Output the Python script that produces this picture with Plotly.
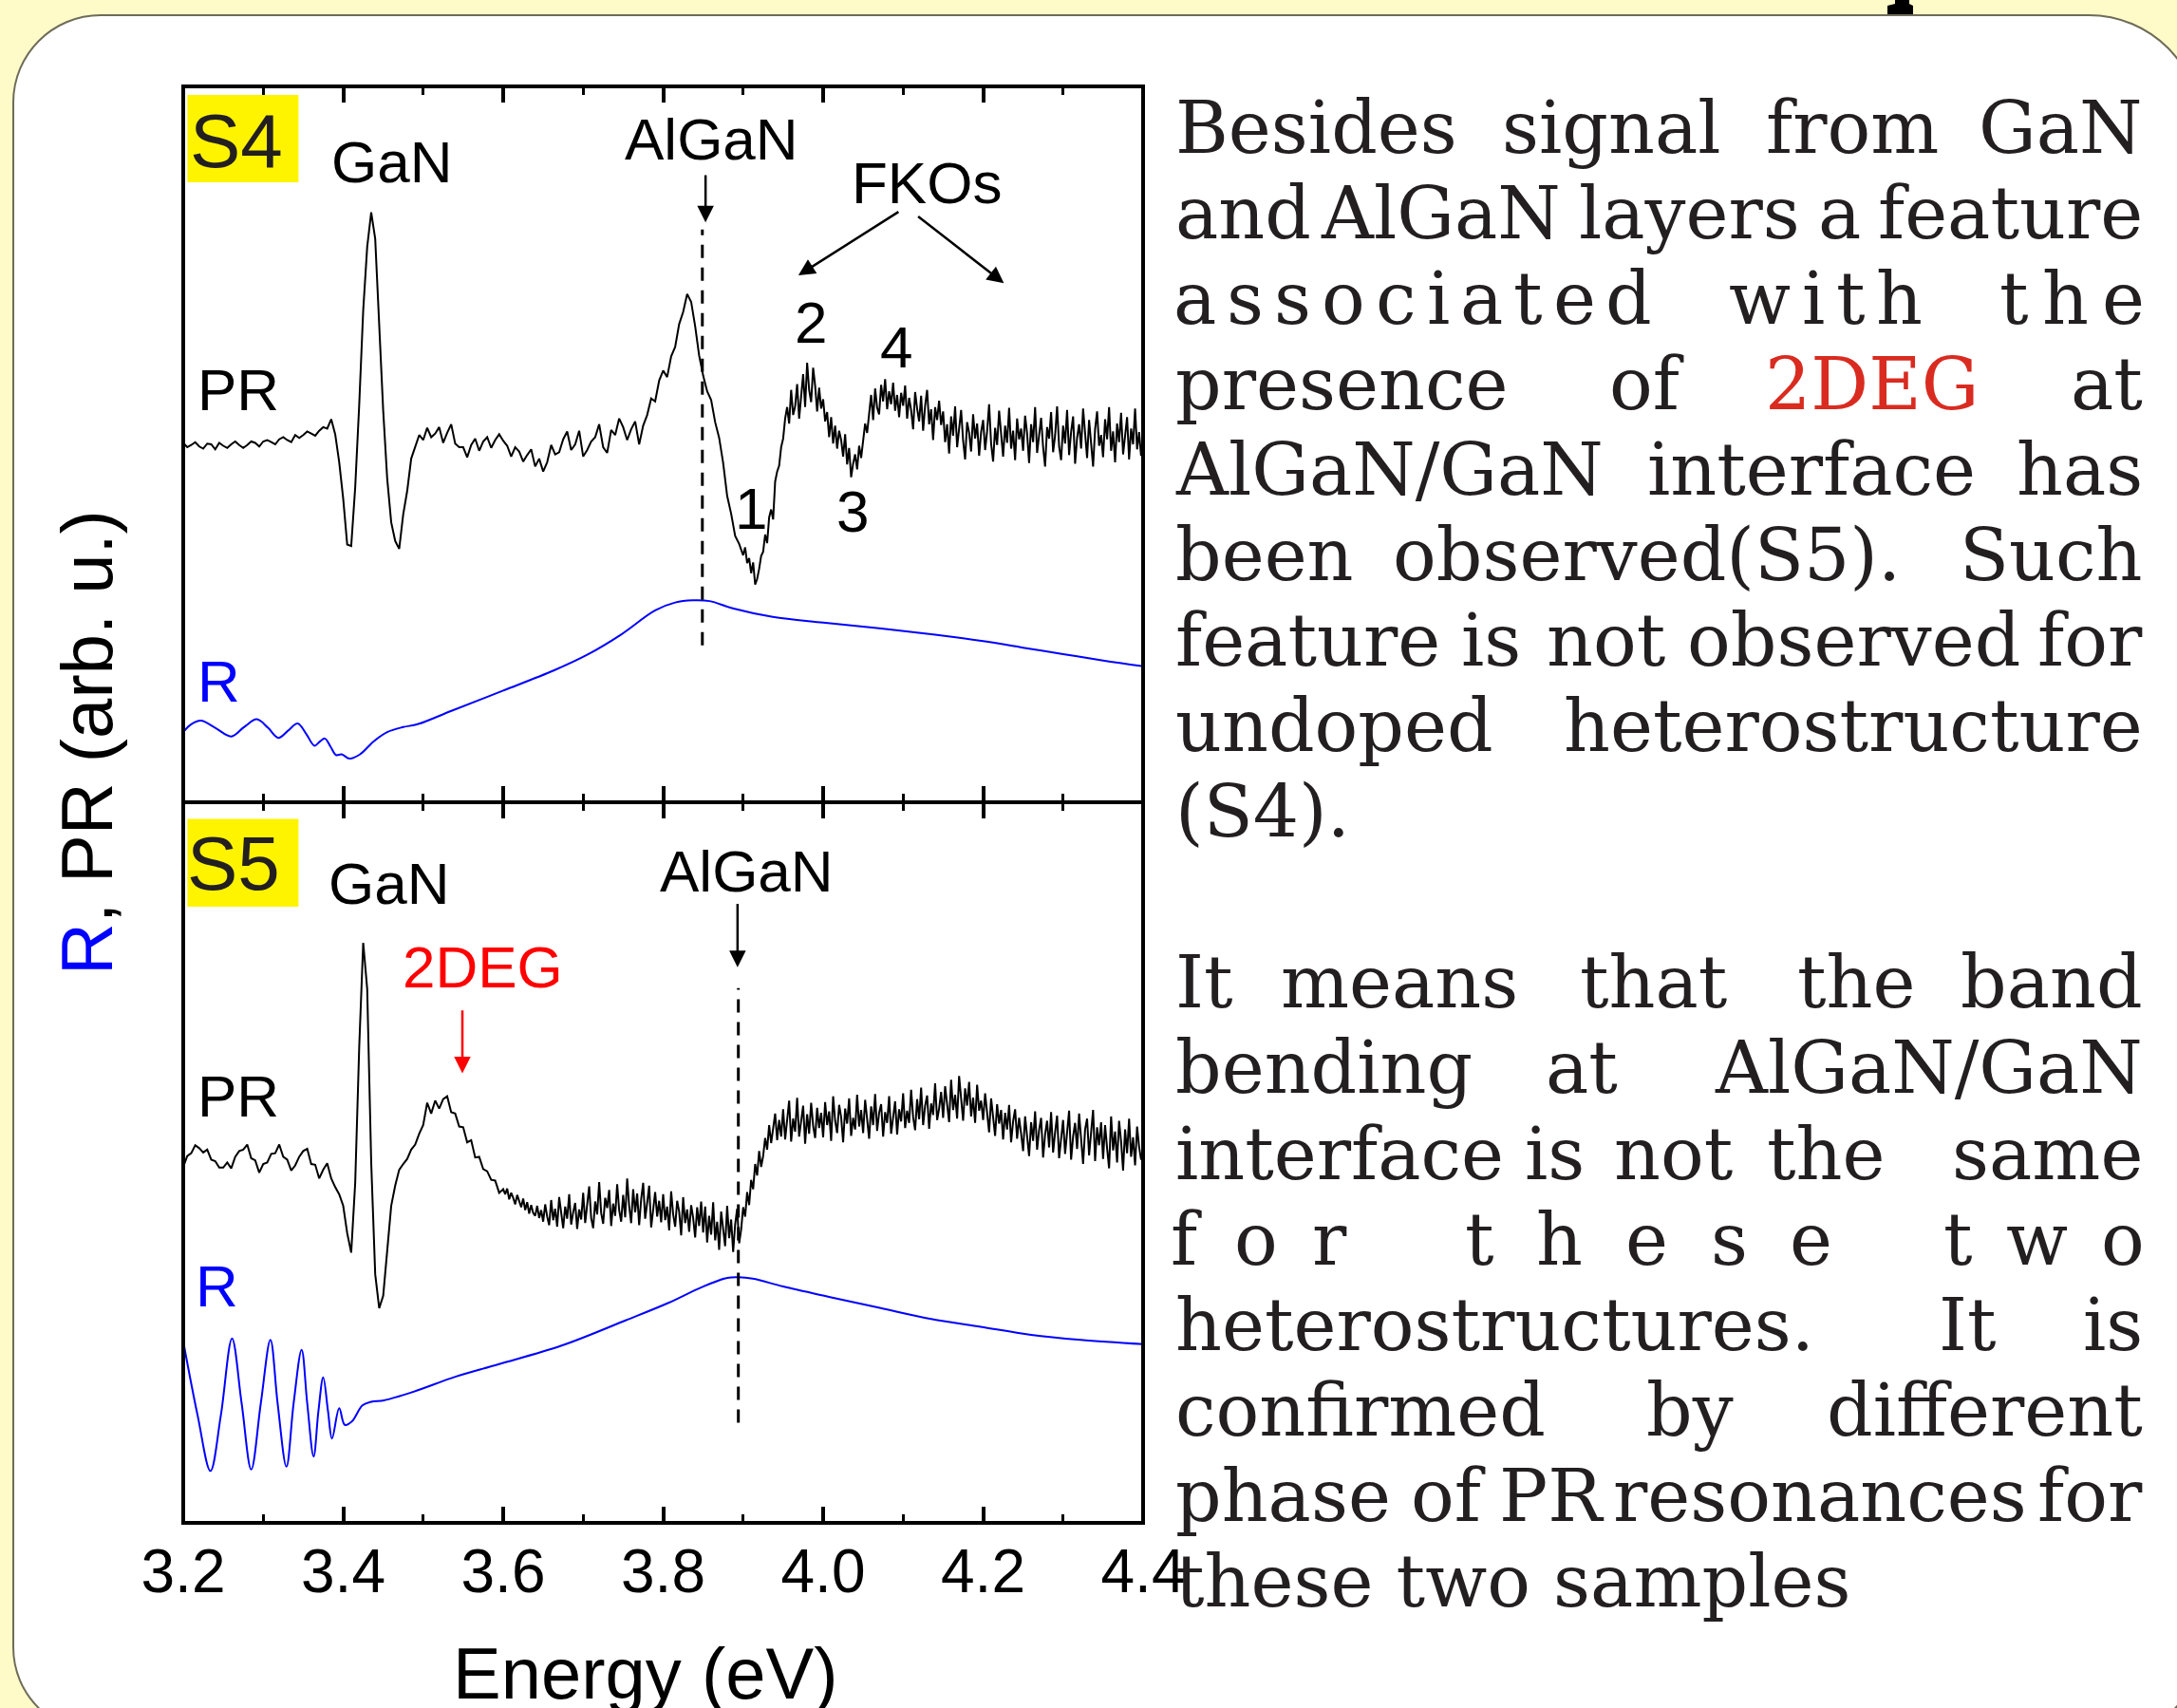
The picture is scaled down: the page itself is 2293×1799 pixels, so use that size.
import numpy as np
import plotly.graph_objects as go

W, H = 2293, 1799
S = W / 1568.0          # preview -> full scale for text layout positions

# ---------------- data (arb. u.) ----------------
# S4 PR: 3.200-3.895 eV every 5 meV, then 3.900-4.400 eV every 2.5 meV
pr_s4_coarse = [
    50.2, 49.6, 49.9, 50.3, 49.7, 49.4, 50.1, 50.0, 49.3, 50.2,
    49.8, 49.5, 50.0, 50.4, 49.9, 49.5, 49.9, 50.4, 50.2, 49.7,
    50.4, 50.6, 50.3, 50.0, 50.7, 51.0, 50.6, 50.3, 51.3, 50.9,
    51.3, 51.8, 51.5, 51.2, 51.9, 52.4, 52.2, 53.5, 51.4, 47.5,
    42.4, 36.0, 35.8, 44.0, 55.5, 68.7, 77.6, 82.4, 78.7, 67.0,
    54.7, 45.2, 39.1, 36.5, 35.4, 40.2, 43.5, 48.0, 49.7, 51.3,
    50.6, 52.3, 51.0, 51.5, 52.4, 50.2, 51.6, 52.8, 50.1, 49.6,
    49.6, 48.2, 49.9, 50.8, 49.1, 50.4, 51.0, 49.5, 50.6, 51.4,
    50.5, 49.8, 48.3, 49.6, 49.0, 47.6, 48.5, 49.3, 46.9, 48.0,
    46.2, 47.5, 49.9, 48.6, 48.9, 50.7, 51.8, 49.2, 50.0, 51.9,
    48.3, 49.2, 50.4, 51.0, 52.8, 49.6, 48.8, 52.0, 51.3, 53.6,
    52.4, 50.6, 52.1, 53.2, 50.0, 52.6, 54.1, 56.4, 56.0, 58.9,
    60.3, 59.4, 62.3, 63.6, 66.8, 68.5, 71.0, 69.9, 66.5, 62.4,
    59.6, 57.4, 56.2, 53.1, 50.9, 47.4, 42.8, 40.3, 37.2, 36.1,
]
pr_s4_fine = [
    34.5, 35.6, 33.4, 34.1, 32.0, 33.5, 30.4, 31.2, 32.6, 34.4, 35.0, 37.4, 36.2, 39.8, 40.9, 39.5, 44.8, 46.2, 47.0, 49.6,
    50.8, 53.6, 55.2, 52.9, 57.6, 54.1, 55.3, 58.4, 53.6, 56.9, 59.8, 55.2, 61.4, 57.6, 55.9, 60.7, 58.2, 54.6, 57.9, 55.0,
    56.3, 53.2, 54.5, 51.0, 53.8, 50.1, 52.6, 49.4, 51.9, 50.6, 48.3, 51.4, 47.2, 49.5, 45.4, 47.3, 48.6, 46.5, 49.8, 48.1,
    50.2, 52.9, 51.6, 54.8, 56.9, 53.4, 57.8, 55.1, 54.2, 58.3, 56.0, 59.1, 54.9, 57.4, 55.6, 58.6, 54.7, 56.9, 53.8, 57.2,
    55.4, 58.2, 53.6, 56.5, 54.8, 52.1, 57.3, 55.0, 53.2, 56.8, 51.9, 55.4, 57.6, 52.8, 54.9, 50.6, 55.2, 53.4, 56.1, 52.7,
    54.6, 50.3, 52.8, 48.7, 53.9, 51.2, 55.3, 49.6, 52.0, 54.8, 50.5, 47.9, 53.1, 51.6, 49.0, 54.2, 50.8, 52.9, 48.4, 51.7,
    53.4, 49.2, 51.8, 55.6, 50.1, 47.6, 52.3, 49.9, 54.7, 51.0, 48.3, 52.6, 50.2, 55.1, 49.4, 51.9, 47.8, 53.6, 50.7, 52.2,
    49.1, 54.0, 51.5, 47.4, 52.8, 50.3, 55.2, 48.8, 51.4, 53.7, 49.6, 46.9, 52.4, 50.8, 54.5, 48.9, 51.2, 55.3, 49.7, 47.8,
    52.6, 50.1, 54.8, 48.5, 51.7, 53.9, 47.3, 50.9, 52.8, 49.4, 55.0, 51.2, 48.1, 53.4, 50.5, 46.9, 52.1, 54.6, 49.8, 51.3,
    48.2, 53.5, 50.7, 55.2, 49.1, 51.8, 47.5, 52.9, 50.3, 54.4, 48.6, 51.5, 53.8, 47.9, 52.2, 50.0, 55.0, 49.3, 51.7, 48.4,
    50.5,
]
# S5 PR: 3.200-3.595 eV every 5 meV, then 3.600-4.400 eV every 2.5 meV
pr_s5_coarse = [
    49.4, 50.9, 51.3, 52.4, 52.0, 51.4, 51.8, 50.4, 50.2, 49.3,
    49.3, 50.0, 49.2, 50.8, 51.6, 51.8, 52.5, 50.6, 50.3, 48.6,
    49.8, 50.0, 51.2, 51.3, 52.5, 50.8, 50.4, 48.9, 49.6, 50.8,
    51.6, 51.9, 49.8, 49.7, 47.8, 49.0, 49.9, 47.8, 46.6, 45.6,
    44.0, 40.2, 37.5, 47.2, 66.0, 80.5, 74.1, 50.0, 34.5, 29.8,
    31.5, 38.0, 44.0, 46.8, 49.0, 49.8, 50.5, 51.8, 52.5, 54.0,
    55.2, 58.3, 56.8, 58.6, 57.5, 58.8, 59.2, 57.0, 56.8, 55.0,
    54.9, 52.8, 53.1, 50.7, 50.8, 49.1, 48.8, 47.6, 47.5, 45.8,
]
pr_s5_fine = [
    46.3, 45.6, 46.4, 44.9, 45.8, 45.1, 44.2, 45.5, 44.6, 43.8, 45.0, 43.4, 44.5, 42.9, 44.1, 43.0, 42.6, 44.0, 42.3, 43.4,
    41.8, 44.2, 42.5, 41.3, 44.8, 42.0, 43.6, 41.1, 45.2, 42.7, 40.9, 43.9, 42.2, 45.6, 41.4, 43.1, 44.4, 40.8, 43.5, 42.1,
    45.8, 41.6, 43.9, 46.7, 42.3, 40.9, 44.6, 42.8, 47.3, 43.0, 41.5, 45.1, 43.7, 46.2, 41.2, 44.3, 42.6, 47.0, 43.4, 41.8,
    45.5, 42.4, 47.8, 44.0, 41.6, 46.3, 43.1, 45.7, 41.3, 44.9, 47.2, 42.2, 44.4, 46.8, 41.0, 43.8, 45.9, 42.5, 44.7, 41.7,
    45.6, 42.0, 43.9, 40.6, 46.0, 42.8, 41.1, 44.7, 43.2, 39.9, 45.2, 41.6, 43.5, 40.4, 44.1, 42.3, 39.6, 43.8, 41.2, 44.6,
    40.3, 43.9, 38.9, 42.6, 40.0, 44.5, 39.2, 41.8, 37.9, 43.2, 40.6, 38.4, 44.0, 39.5, 42.1, 37.6, 41.4, 43.6, 38.8, 40.7,
    43.8, 42.5, 45.9, 44.1, 47.6, 46.3, 49.8, 48.2, 51.6, 49.4, 50.9, 53.4, 51.8, 55.2, 52.7, 54.6, 56.8, 53.1, 55.9, 53.6,
    57.4, 53.2, 55.8, 58.6, 52.9, 56.1, 54.3, 59.0, 53.6, 55.5, 57.9, 52.6, 56.7, 54.0, 58.3, 55.1, 53.4, 57.6, 54.8, 56.9,
    53.5, 58.4, 55.2, 57.1, 53.0, 59.2, 55.8, 54.1, 58.0, 56.3, 52.8, 57.5, 55.4, 58.9, 53.7, 56.2, 54.6, 59.4, 55.0, 57.3,
    54.1, 58.7, 56.0, 53.3, 57.8, 55.2, 59.5, 54.4, 56.9, 58.1, 53.6, 57.0, 55.5, 59.2, 54.0, 56.6, 58.5, 53.9, 57.4, 55.7,
    59.6, 54.8, 57.2, 55.5, 60.1, 56.3, 54.5, 58.8, 56.0, 60.4, 55.2, 57.9, 59.3, 54.7, 58.2, 56.6, 61.0, 55.9, 57.5, 59.8,
    56.2, 60.6, 58.0, 55.6, 61.5, 57.3, 59.4, 56.1, 62.0, 58.5, 55.8, 60.3, 57.9, 61.2, 56.4, 59.0, 55.5, 60.8, 57.2, 58.6,
    55.9, 59.6, 56.8, 54.2, 58.9, 56.0, 53.7, 58.1, 55.4, 57.3, 53.2, 56.9, 54.6, 58.0, 52.8, 55.7, 57.4, 53.3, 56.2, 54.0,
    51.6, 56.4, 53.8, 50.9, 55.6, 53.0, 57.1, 51.8, 54.5, 56.2, 50.7, 53.9, 55.8, 52.1, 57.0, 51.4, 54.2, 56.5, 50.6, 53.5,
    55.9, 51.2, 54.0, 57.2, 50.4, 53.6, 55.5, 51.9, 56.8, 52.7, 49.8, 54.6, 56.1, 51.0, 53.8, 57.3, 50.2, 54.9, 52.4, 55.6,
    50.5, 55.2, 52.0, 49.2, 56.4, 51.7, 54.3, 50.0, 55.8, 52.9, 48.9, 54.6, 51.3, 56.1, 50.8, 53.5, 49.6, 55.0, 52.2, 50.4,
    51.0,
]

def scan_grid(start, step, n):
    return np.round(start + step * np.arange(n), 4)

energy_pr_s4 = np.concatenate([scan_grid(3.2, 0.005, len(pr_s4_coarse)),
                               scan_grid(3.9, 0.0025, len(pr_s4_fine))])
pr_s4 = pr_s4_coarse + pr_s4_fine
energy_pr_s5 = np.concatenate([scan_grid(3.2, 0.005, len(pr_s5_coarse)),
                               scan_grid(3.6, 0.0025, len(pr_s5_fine))])
pr_s5 = pr_s5_coarse + pr_s5_fine

energy_r_s4 = [3.200, 3.210, 3.222, 3.240, 3.260, 3.276, 3.292, 3.306, 3.319, 3.331,
               3.343, 3.354, 3.364, 3.371, 3.377, 3.384, 3.391, 3.398, 3.408, 3.421,
               3.438, 3.455, 3.475, 3.493, 3.536, 3.600, 3.663, 3.705, 3.747, 3.790,
               3.815, 3.837, 3.858, 3.887, 3.937, 4.000, 4.070, 4.140, 4.200, 4.250,
               4.300, 4.350, 4.400]
r_s4 = [9.8, 10.9, 11.4, 10.4, 9.2, 10.5, 11.6, 10.4, 9.0, 10.0,
        11.0, 9.5, 7.9, 8.5, 8.9, 7.8, 6.6, 6.7, 6.1, 6.7,
        8.5, 9.8, 10.5, 10.9, 12.8, 15.6, 18.4, 20.6, 23.4, 26.8,
        27.9, 28.2, 28.1, 27.1, 25.9, 25.1, 24.3, 23.4, 22.5, 21.6,
        20.7, 19.8, 19.0]

energy_r_s5 = [3.200, 3.218, 3.234, 3.247, 3.261, 3.273, 3.285, 3.297, 3.309, 3.318,
               3.329, 3.338, 3.348, 3.355, 3.363, 3.369, 3.375, 3.381, 3.386, 3.395,
               3.402, 3.411, 3.424, 3.435, 3.451, 3.488, 3.541, 3.594, 3.673, 3.753,
               3.806, 3.848, 3.880, 3.894, 3.912, 3.950, 4.010, 4.072, 4.135, 4.197,
               4.260, 4.322, 4.400]
r_s5 = [25.2, 14.9, 7.2, 14.9, 25.6, 16.6, 7.4, 16.6, 25.4, 16.6,
        7.8, 16.6, 24.0, 16.6, 9.2, 15.5, 20.2, 15.5, 11.7, 15.9,
        13.6, 14.1, 16.3, 16.8, 17.0, 18.2, 20.3, 22.0, 24.6, 28.1,
        30.5, 32.7, 34.0, 34.1, 33.9, 32.8, 31.3, 29.8, 28.3, 27.2,
        26.1, 25.4, 24.8]

x_tick_vals = [3.2, 3.4, 3.6, 3.8, 4.0, 4.2, 4.4]
x_tick_text = ["3.2", "3.4", "3.6", "3.8", "4.0", "4.2", "4.4"]
x_range = [3.2, 4.4]
algan_s4 = 3.849      # eV, dashed marker
algan_s5 = 3.894

# ---------------- helpers ----------------
def px(x):
    return x / W

def py(y):
    return 1 - y / H

SANS = "Liberation Sans, Arial, sans-serif"
SERIF = "DejaVu Serif, serif"
BLUE = "#0000ff"
TXT = "#231f20"

XD = [px(193), px(1204)]
YT = [py(845), py(91)]
YB = [py(1604), py(845)]

fig = go.Figure()
# bottom panel S5
fig.add_trace(go.Scatter(x=energy_pr_s5, y=pr_s5, mode="lines", xaxis="x", yaxis="y",
                         line=dict(color="black", width=2), hoverinfo="skip"))
fig.add_trace(go.Scatter(x=energy_r_s5, y=r_s5, mode="lines", xaxis="x", yaxis="y",
                         line=dict(color=BLUE, width=2, shape="spline", smoothing=1.0), hoverinfo="skip"))
# top panel S4
fig.add_trace(go.Scatter(x=energy_pr_s4, y=pr_s4, mode="lines", xaxis="x2", yaxis="y2",
                         line=dict(color="black", width=2), hoverinfo="skip"))
fig.add_trace(go.Scatter(x=energy_r_s4, y=r_s4, mode="lines", xaxis="x2", yaxis="y2",
                         line=dict(color=BLUE, width=2, shape="spline", smoothing=1.0), hoverinfo="skip"))

xcommon = dict(range=x_range, tickmode="array", tickvals=x_tick_vals, ticktext=x_tick_text,
               ticks="inside", ticklen=17, tickwidth=4, tickcolor="black",
               minor=dict(ticks="inside", ticklen=9, tickwidth=3, tickcolor="black", dtick=0.1, tick0=3.2),
               showline=True, linewidth=2, linecolor="black", mirror="ticks",
               showgrid=False, zeroline=False, fixedrange=True, domain=XD, automargin=False)
ycommon = dict(range=[0, 100], showticklabels=False, ticks="", showgrid=False, zeroline=False,
               showline=True, linewidth=2, linecolor="black", mirror=True, fixedrange=True,
               automargin=False)

fig.update_layout(
    width=W, height=H, margin=dict(l=0, r=0, t=0, b=0, pad=0, autoexpand=False),
    autosize=False,
    paper_bgcolor="#fffbc9", plot_bgcolor="rgba(0,0,0,0)", showlegend=False,
    xaxis=dict(**xcommon, anchor="y", tickfont=dict(family=SANS, size=64, color="black"),
               ticklabelstandoff=-6),
    xaxis2=dict(**xcommon, anchor="y2", matches="x", showticklabels=False),
    yaxis=dict(**ycommon, domain=YB, anchor="x"),
    yaxis2=dict(**ycommon, domain=YT, anchor="x2"),
)

shapes = []
# rounded white slide panel
def rrect(x0, y0, x1, y1, rtl, rtr, rbr, rbl):
    k = 0.5523
    P = lambda x, y: f"{px(x):.6f},{py(y):.6f}"
    return (f"M {P(x0 + rtl, y0)} L {P(x1 - rtr, y0)} "
            f"C {P(x1 - rtr + k * rtr, y0)} {P(x1, y0 + rtr - k * rtr)} {P(x1, y0 + rtr)} "
            f"L {P(x1, y1 - rbr)} "
            f"C {P(x1, y1 - rbr + k * rbr)} {P(x1 - rbr + k * rbr, y1)} {P(x1 - rbr, y1)} "
            f"L {P(x0 + rbl, y1)} "
            f"C {P(x0 + rbl - k * rbl, y1)} {P(x0, y1 - rbl + k * rbl)} {P(x0, y1 - rbl)} "
            f"L {P(x0, y0 + rtl)} "
            f"C {P(x0, y0 + rtl - k * rtl)} {P(x0 + rtl - k * rtl, y0)} {P(x0 + rtl, y0)} Z")

shapes.append(dict(type="path", xref="paper", yref="paper", layer="below",
                   path=rrect(14, 16, 2318, 1825, 92, 118, 90, 90),
                   fillcolor="white", line=dict(color="#6e6c58", width=2)))
# small black mark at the top edge
blob = [(1996, -2), (2011, -2), (2011, 4), (2015, 6), (2015, 15), (1988, 15), (1988, 6), (1996, 4)]
shapes.append(dict(type="path", xref="paper", yref="paper", layer="above",
                   path="M " + " L ".join(f"{px(a):.6f},{py(b):.6f}" for a, b in blob) + " Z",
                   fillcolor="black", line=dict(width=0)))
# frame
shapes.append(dict(type="rect", xref="paper", yref="paper", layer="above",
                   x0=XD[0], x1=XD[1], y0=YB[0], y1=YT[1], line=dict(color="black", width=4)))
# yellow sample boxes
shapes.append(dict(type="rect", xref="x2", yref="y2", layer="above",
                   x0=3.2052, x1=3.3441, y0=86.6, y1=98.8, fillcolor="#fff400", line=dict(width=0)))
shapes.append(dict(type="rect", xref="x", yref="y", layer="above",
                   x0=3.2052, x1=3.3441, y0=85.5, y1=97.7, fillcolor="#fff400", line=dict(width=0)))
# dashed AlGaN markers
shapes.append(dict(type="line", xref="x2", yref="y2", x0=algan_s4, x1=algan_s4, y0=21.9, y1=80.0,
                   line=dict(color="black", width=3, dash="14px,10px")))
shapes.append(dict(type="line", xref="x", yref="y", x0=algan_s5, x1=algan_s5, y0=13.9, y1=74.2,
                   line=dict(color="black", width=3, dash="14px,10px")))
fig.update_layout(shapes=shapes)

ann = []
def label(text, x, y, panel, size=62, color="black"):
    xr, yr = ("x2", "y2") if panel == "top" else ("x", "y")
    ann.append(dict(text=text, x=x, y=y, xref=xr, yref=yr, xanchor="center", yanchor="middle",
                    showarrow=False, font=dict(family=SANS, size=size, color=color)))

def arrow(x_head, y_head, x_tail, y_tail, panel, color="black"):
    xr, yr = ("x2", "y2") if panel == "top" else ("x", "y")
    ann.append(dict(text="", x=x_head, y=y_head, ax=x_tail, ay=y_tail, xref=xr, yref=yr,
                    axref=xr, ayref=yr, showarrow=True, arrowhead=2, arrowsize=1.4,
                    arrowwidth=2.5, arrowcolor=color, standoff=0))

# top panel (S4)
label("S4", 3.266, 92.4, "top", size=80, color=TXT)
label("GaN", 3.460, 89.5, "top")
label("AlGaN", 3.861, 92.6, "top")
label("FKOs", 4.129, 86.6, "top")
label("2", 3.985, 67.1, "top")
label("4", 4.091, 63.6, "top")
label("1", 3.910, 41.1, "top")
label("3", 4.037, 40.7, "top")
label("PR", 3.269, 57.6, "top")
label("R", 3.245, 16.9, "top", color=BLUE)
arrow(3.853, 81.0, 3.853, 87.8, "top")
arrow(3.969, 73.6, 4.096, 82.6, "top")
arrow(4.226, 72.5, 4.117, 82.0, "top")
# bottom panel (S5)
label("S5", 3.2625, 91.5, "bottom", size=80, color=TXT)
label("GaN", 3.457, 88.8, "bottom")
label("AlGaN", 3.905, 90.4, "bottom")
label("2DEG", 3.575, 77.1, "bottom", color="#ff0000")
label("PR", 3.269, 59.2, "bottom")
label("R", 3.242, 32.9, "bottom", color=BLUE)
arrow(3.893, 77.1, 3.893, 86.1, "bottom")
arrow(3.549, 62.4, 3.549, 71.3, "bottom", color="#ff0000")

# axis titles
ann.append(dict(text="Energy (eV)", x=px(680), y=py(1762), xref="paper", yref="paper",
                xanchor="center", yanchor="middle", showarrow=False,
                font=dict(family=SANS, size=76, color="black")))
ann.append(dict(text=f"<span style='color:{BLUE}'>R</span>, PR (arb. u.)", x=px(91), y=py(782),
                xref="paper", yref="paper", xanchor="center", yanchor="middle", textangle=-90,
                showarrow=False, font=dict(family=SANS, size=76, color="black")))

# ---------------- justified text block ----------------
TXT_FS = 76
RED_TXT = "#d92b20"
LEFT, RIGHT = 845, 1545        # preview coordinates of the text column
DJV = {'a': .596, 's': .513, 'o': .602, 'c': .560, 'i': .320, 't': .402, 'e': .592,
       'd': .640, 'w': .856, 'h': .644, 'f': .370, 'r': .478}

lines = [
    [("Besides", "l", LEFT), ("signal", "c", 1161), ("from", "c", 1334), ("GaN", "r", RIGHT)],
    [("and", "l", LEFT), ("AlGaN", "c", 1038), ("layers", "c", 1217), ("a", "c", 1325), ("feature", "r", RIGHT)],
    ("spaced", [("associated", 845, 1190), ("with", 1245, 1385), ("the", 1440, 1545)]),
    [("presence", "l", LEFT), ("of", "c", 1186), ("2DEG", "c", 1348, RED_TXT), ("at", "r", RIGHT)],
    [("AlGaN/GaN", "l", LEFT), ("interface", "c", 1305), ("has", "r", RIGHT)],
    [("been", "l", LEFT), ("observed(S5).", "c", 1186), ("Such", "r", RIGHT)],
    [("feature", "l", LEFT), ("is", "c", 1074), ("not", "c", 1157), ("observed", "c", 1335), ("for", "r", RIGHT)],
    [("undoped", "l", LEFT), ("heterostructure", "r", RIGHT)],
    [("(S4).", "l", LEFT)],
    [],
    [("It", "l", LEFT), ("means", "c", 1008), ("that", "c", 1191), ("the", "c", 1337), ("band", "r", RIGHT)],
    [("bending", "l", LEFT), ("at", "c", 1139), ("AlGaN/GaN", "r", RIGHT)],
    [("interface", "l", LEFT), ("is", "c", 1120), ("not", "c", 1205), ("the", "c", 1315), ("same", "r", RIGHT)],
    ("spaced", [("for", 845, 970), ("these", 1055, 1320), ("two", 1400, 1545)]),
    [("heterostructures.", "l", LEFT), ("It", "c", 1417), ("is", "r", RIGHT)],
    [("confirmed", "l", LEFT), ("by", "c", 1217), ("different", "r", RIGHT)],
    [("phase", "l", LEFT), ("of", "c", 1043), ("PR", "c", 1118), ("resonances", "c", 1311), ("for", "r", RIGHT)],
    [("these two samples", "l", LEFT)],
]
anchors = {"l": "left", "c": "center", "r": "right"}

def word(text, xfull, anchor, baseline, color=TXT):
    ann.append(dict(text=text, x=px(xfull), y=py(baseline - 0.346 * TXT_FS), xref="paper", yref="paper",
                    xanchor=anchor, yanchor="middle", showarrow=False,
                    font=dict(family=SERIF, size=TXT_FS, color=color)))

for i, ln in enumerate(lines):
    base = 160.7 + i * 90.05
    if isinstance(ln, tuple):
        for w_, L, R in ln[1]:
            L, R = L * S, R * S
            widths = [DJV[c] * TXT_FS for c in w_]
            gap = (R - L - sum(widths)) / (len(w_) - 1)
            xx = L
            for c, wd in zip(w_, widths):
                word(c, xx + wd / 2, "center", base)
                xx += wd + gap
    else:
        for item in ln:
            color = item[3] if len(item) > 3 else TXT
            word(item[0], item[2] * S, anchors[item[1]], base, color)

fig.update_layout(annotations=ann)
fig.write_html("out.html", config={"displayModeBar": False},
               post_script="document.body.style.margin='0px';")
